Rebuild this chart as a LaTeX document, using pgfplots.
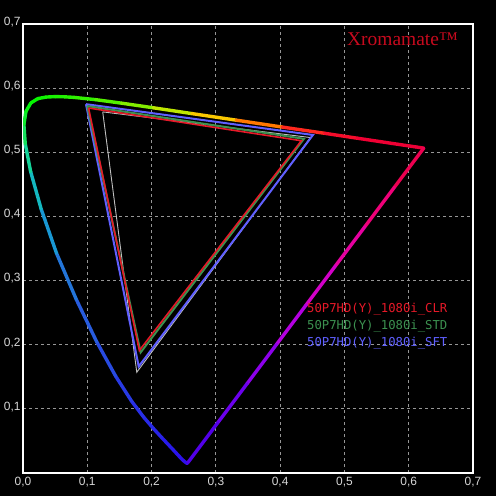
\documentclass[border=0pt]{standalone}
\usepackage{pgfplots}
\pgfplotsset{compat=1.18}
\usepackage{fontspec}
\setmainfont{Liberation Sans}
\newfontfamily\titlefont{Liberation Serif}
\newfontfamily\monofont{DejaVu Sans Mono}
\definecolor{clr}{RGB}{230,25,40}
\definecolor{std}{RGB}{60,145,80}
\definecolor{sft}{RGB}{95,95,255}
\definecolor{ttl}{RGB}{200,10,30}
\definecolor{tickc}{RGB}{215,215,215}
\definecolor{gridc}{RGB}{150,150,150}
\begin{document}
\begin{tikzpicture}
\path[fill=black, use as bounding box] (-23bp,-23bp) rectangle (473bp,473bp);
\begin{axis}[
  at={(0,0)}, anchor=south west,
  scale only axis, width=450bp, height=449bp,
  xmin=0, xmax=0.7, ymin=0, ymax=0.7,
  xtick={0,0.1,0.2,0.3,0.4,0.5,0.6,0.7},
  ytick={0.1,0.2,0.3,0.4,0.5,0.6,0.7},
  major tick length=0pt,
  grid=major,
  major grid style={draw=gridc, line width=0.8bp, dash pattern=on 3bp off 3bp},
  axis line style={draw=white, line width=1.3bp},
  tick label style={font=\fontsize{12}{12}\selectfont, text=tickc},
  xticklabel style={yshift=-1bp},
  yticklabel style={xshift=1bp, yshift=2bp},
  /pgf/number format/.cd, use comma, fixed, fixed zerofill, precision=1, assume math mode=true,
  /pgfplots/.cd,
  colormap={wl}{rgb255(0pt)=(70,0,230) rgb255(60pt)=(40,20,235) rgb255(85pt)=(40,50,230) rgb255(100pt)=(40,100,220) rgb255(110pt)=(20,170,210) rgb255(117pt)=(20,210,160) rgb255(125pt)=(20,230,60) rgb255(135pt)=(0,245,0) rgb255(165pt)=(50,240,0) rgb255(180pt)=(100,240,0) rgb255(195pt)=(190,230,0) rgb255(205pt)=(250,200,0) rgb255(215pt)=(255,120,0) rgb255(225pt)=(255,40,30) rgb255(240pt)=(240,0,50) rgb255(320pt)=(235,0,60) rgb255(340pt)=(240,0,140) rgb255(360pt)=(200,0,220) rgb255(380pt)=(120,0,240) rgb255(400pt)=(70,0,230)},
  point meta min=380, point meta max=780,
]
% spectral locus and purple line
\addplot[mesh, point meta=explicit, line width=3.4bp, line cap=round, line join=round] table[x=u, y=v, meta=w] {
u v w
0.2568 0.0166 380
0.2557 0.0159 400
0.2545 0.0159 410
0.2522 0.0169 420
0.2461 0.0226 430
0.2347 0.0350 440
0.2161 0.0549 450
0.2033 0.0688 455
0.1877 0.0871 460
0.1690 0.1119 465
0.1441 0.1510 470
0.1147 0.2044 475
0.0828 0.2708 480
0.0521 0.3427 485
0.0282 0.4117 490
0.0119 0.4698 495
0.0035 0.5131 500
0.0014 0.5432 505
0.0046 0.5638 510
0.0123 0.5770 515
0.0231 0.5837 520
0.0360 0.5861 525
0.0501 0.5868 530
0.0643 0.5865 535
0.0792 0.5856 540
0.1127 0.5821 550
0.1531 0.5766 560
0.2026 0.5694 570
0.2623 0.5604 580
0.3315 0.5501 590
0.4035 0.5393 600
0.4692 0.5296 610
0.5203 0.5219 620
0.5565 0.5165 630
0.5830 0.5125 640
0.6005 0.5099 650
0.6109 0.5084 660
0.6199 0.5070 680
0.6234 0.5065 700
0.5776 0.4453 710
0.5318 0.3840 720
0.4859 0.3228 730
0.4401 0.2616 740
0.3943 0.2003 750
0.3485 0.1391 760
0.3026 0.0779 770
0.2568 0.0166 780
};
% gamut triangles
\addplot[draw=white!75!black, line width=0.9bp, line join=miter] coordinates {(0.124,0.563) (0.447,0.523) (0.177,0.157) (0.124,0.563)};
\addplot[draw=sft, line width=2bp, line join=miter] coordinates {(0.098,0.575) (0.451,0.527) (0.180,0.166) (0.098,0.575)};
\addplot[draw=std, line width=2bp, line join=miter] coordinates {(0.100,0.572) (0.437,0.521) (0.183,0.188) (0.100,0.572)};
\addplot[draw=clr, line width=1.6bp, line join=miter] coordinates {(0.102,0.569) (0.433,0.518) (0.181,0.191) (0.102,0.569)};
% texts
\node[anchor=base west, inner sep=0pt, text=ttl, font=\titlefont\fontsize{19.5}{20}\selectfont] at (axis cs:0.504,0.666) {Xromamate™};
\node[anchor=base west, inner sep=0pt, text=clr, font=\monofont\fontsize{12.3}{13}\selectfont] at (axis cs:0.4417,0.251) {50P7HD(Y)\_1080i\_CLR};
\node[anchor=base west, inner sep=0pt, text=std, font=\monofont\fontsize{12.3}{13}\selectfont] at (axis cs:0.4417,0.223) {50P7HD(Y)\_1080i\_STD};
\node[anchor=base west, inner sep=0pt, text=sft, font=\monofont\fontsize{12.3}{13}\selectfont] at (axis cs:0.4417,0.1966) {50P7HD(Y)\_1080i\_SFT};
\end{axis}
\end{tikzpicture}
\end{document}
